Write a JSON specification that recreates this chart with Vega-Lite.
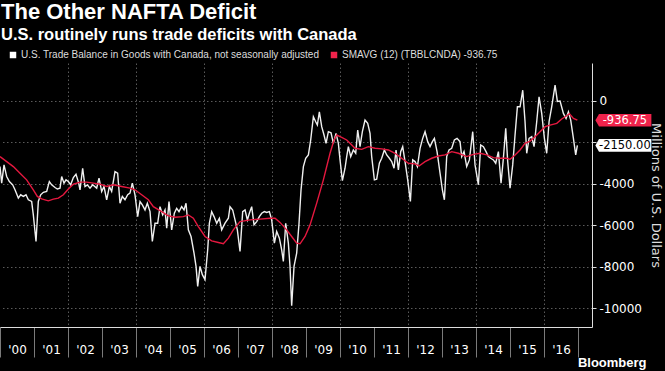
{
  "$schema": "https://vega.github.io/schema/vega-lite/v6.json",
  "width": 592,
  "height": 264,
  "autosize": {"type": "none"},
  "padding": {"left": 0, "top": 63, "right": 73, "bottom": 44},
  "background": "#000000",
  "title": {
    "text": "The Other NAFTA Deficit",
    "subtitle": "U.S. routinely runs trade deficits with Canada",
    "anchor": "start",
    "frame": "group",
    "orient": "top",
    "offset": 6,
    "dx": 1,
    "font": "Liberation Sans",
    "fontSize": 22,
    "fontWeight": "bold",
    "color": "#ffffff",
    "subtitleFont": "Liberation Sans",
    "subtitleFontSize": 16.5,
    "subtitleFontWeight": "bold",
    "subtitleColor": "#ffffff",
    "subtitlePadding": 3
  },
  "config": {
    "view": {"stroke": null},
    "legend": {"orient": "none"}
  },
  "datasets": {
    "lines": [
      {"s":"bal","t":2000.000,"v":-3170},{"s":"bal","t":2000.049,"v":-3970},{"s":"bal","t":2000.118,"v":-3090},{"s":"bal","t":2000.196,"v":-3650},{"s":"bal","t":2000.275,"v":-3890},{"s":"bal","t":2000.373,"v":-4050},{"s":"bal","t":2000.441,"v":-4290},{"s":"bal","t":2000.539,"v":-4690},{"s":"bal","t":2000.608,"v":-4530},{"s":"bal","t":2000.686,"v":-4610},{"s":"bal","t":2000.765,"v":-4530},{"s":"bal","t":2000.833,"v":-4770},{"s":"bal","t":2000.931,"v":-4850},{"s":"bal","t":2000.980,"v":-5500},{"s":"bal","t":2001.059,"v":-6780},{"s":"bal","t":2001.127,"v":-4850},{"s":"bal","t":2001.196,"v":-4530},{"s":"bal","t":2001.275,"v":-4410},{"s":"bal","t":2001.373,"v":-4370},{"s":"bal","t":2001.451,"v":-3890},{"s":"bal","t":2001.520,"v":-4050},{"s":"bal","t":2001.618,"v":-4180},{"s":"bal","t":2001.686,"v":-4250},{"s":"bal","t":2001.765,"v":-4210},{"s":"bal","t":2001.814,"v":-3650},{"s":"bal","t":2001.882,"v":-3970},{"s":"bal","t":2001.941,"v":-3810},{"s":"bal","t":2002.010,"v":-3890},{"s":"bal","t":2002.078,"v":-4050},{"s":"bal","t":2002.157,"v":-3700},{"s":"bal","t":2002.235,"v":-3540},{"s":"bal","t":2002.314,"v":-3970},{"s":"bal","t":2002.353,"v":-4290},{"s":"bal","t":2002.431,"v":-3250},{"s":"bal","t":2002.500,"v":-4130},{"s":"bal","t":2002.569,"v":-4050},{"s":"bal","t":2002.647,"v":-4210},{"s":"bal","t":2002.725,"v":-4050},{"s":"bal","t":2002.843,"v":-4210},{"s":"bal","t":2002.912,"v":-3730},{"s":"bal","t":2002.990,"v":-4370},{"s":"bal","t":2003.059,"v":-4130},{"s":"bal","t":2003.137,"v":-4770},{"s":"bal","t":2003.216,"v":-4130},{"s":"bal","t":2003.284,"v":-4370},
      {"s":"bal","t":2003.382,"v":-3410},{"s":"bal","t":2003.460,"v":-3490},{"s":"bal","t":2003.529,"v":-4940},{"s":"bal","t":2003.598,"v":-4610},{"s":"bal","t":2003.676,"v":-4770},{"s":"bal","t":2003.755,"v":-4530},{"s":"bal","t":2003.823,"v":-4450},{"s":"bal","t":2003.892,"v":-3970},{"s":"bal","t":2003.970,"v":-4530},{"s":"bal","t":2004.049,"v":-5580},{"s":"bal","t":2004.118,"v":-4860},{"s":"bal","t":2004.186,"v":-5020},{"s":"bal","t":2004.264,"v":-5260},{"s":"bal","t":2004.333,"v":-4940},{"s":"bal","t":2004.412,"v":-5340},{"s":"bal","t":2004.480,"v":-6780},{"s":"bal","t":2004.559,"v":-5900},{"s":"bal","t":2004.637,"v":-5900},{"s":"bal","t":2004.706,"v":-5100},{"s":"bal","t":2004.784,"v":-5500},{"s":"bal","t":2004.853,"v":-5260},{"s":"bal","t":2004.902,"v":-6140},{"s":"bal","t":2004.970,"v":-4860},{"s":"bal","t":2005.049,"v":-6220},{"s":"bal","t":2005.127,"v":-5420},{"s":"bal","t":2005.196,"v":-5180},{"s":"bal","t":2005.264,"v":-5340},{"s":"bal","t":2005.343,"v":-5100},{"s":"bal","t":2005.412,"v":-5260},{"s":"bal","t":2005.471,"v":-4940},{"s":"bal","t":2005.539,"v":-6220},{"s":"bal","t":2005.618,"v":-6540},{"s":"bal","t":2005.706,"v":-7340},{"s":"bal","t":2005.765,"v":-7980},{"s":"bal","t":2005.814,"v":-8940},{"s":"bal","t":2005.882,"v":-7980},{"s":"bal","t":2005.951,"v":-8380},{"s":"bal","t":2006.029,"v":-8620},{"s":"bal","t":2006.108,"v":-7180},{"s":"bal","t":2006.157,"v":-5900},{"s":"bal","t":2006.225,"v":-5340},{"s":"bal","t":2006.294,"v":-5580},{"s":"bal","t":2006.373,"v":-5900},{"s":"bal","t":2006.451,"v":-5660},{"s":"bal","t":2006.520,"v":-6220},{"s":"bal","t":2006.618,"v":-5900},{"s":"bal","t":2006.716,"v":-5660},
      {"s":"bal","t":2006.765,"v":-5100},{"s":"bal","t":2006.843,"v":-5260},{"s":"bal","t":2006.912,"v":-5740},{"s":"bal","t":2006.980,"v":-6220},{"s":"bal","t":2007.059,"v":-7260},{"s":"bal","t":2007.137,"v":-5340},{"s":"bal","t":2007.206,"v":-5260},{"s":"bal","t":2007.275,"v":-5740},{"s":"bal","t":2007.333,"v":-5420},{"s":"bal","t":2007.402,"v":-5100},{"s":"bal","t":2007.471,"v":-5980},{"s":"bal","t":2007.549,"v":-5820},{"s":"bal","t":2007.627,"v":-5580},{"s":"bal","t":2007.696,"v":-5420},{"s":"bal","t":2007.775,"v":-5340},{"s":"bal","t":2007.843,"v":-5380},{"s":"bal","t":2007.922,"v":-5340},{"s":"bal","t":2007.990,"v":-5740},{"s":"bal","t":2008.069,"v":-6860},{"s":"bal","t":2008.137,"v":-6300},{"s":"bal","t":2008.216,"v":-6620},{"s":"bal","t":2008.284,"v":-7180},{"s":"bal","t":2008.333,"v":-7740},{"s":"bal","t":2008.402,"v":-5900},{"s":"bal","t":2008.480,"v":-6860},{"s":"bal","t":2008.529,"v":-7980},{"s":"bal","t":2008.578,"v":-9870},{"s":"bal","t":2008.647,"v":-7980},{"s":"bal","t":2008.725,"v":-7340},{"s":"bal","t":2008.794,"v":-5900},{"s":"bal","t":2008.853,"v":-4290},{"s":"bal","t":2008.922,"v":-3170},{"s":"bal","t":2008.990,"v":-2770},{"s":"bal","t":2009.069,"v":-2610},{"s":"bal","t":2009.137,"v":-1890},{"s":"bal","t":2009.216,"v":-770},{"s":"bal","t":2009.284,"v":-1010},{"s":"bal","t":2009.333,"v":-1170},{"s":"bal","t":2009.392,"v":-530},{"s":"bal","t":2009.461,"v":-1250},{"s":"bal","t":2009.529,"v":-1650},{"s":"bal","t":2009.588,"v":-2050},{"s":"bal","t":2009.657,"v":-1490},{"s":"bal","t":2009.735,"v":-1540},{"s":"bal","t":2009.804,"v":-2050},{"s":"bal","t":2009.882,"v":-1570},{"s":"bal","t":2009.951,"v":-2050},{"s":"bal","t":2010.000,"v":-2850},{"s":"bal","t":2010.069,"v":-3850},
      {"s":"bal","t":2010.147,"v":-3250},{"s":"bal","t":2010.196,"v":-2690},{"s":"bal","t":2010.245,"v":-2210},{"s":"bal","t":2010.314,"v":-2690},{"s":"bal","t":2010.392,"v":-2370},{"s":"bal","t":2010.461,"v":-2530},{"s":"bal","t":2010.520,"v":-1410},{"s":"bal","t":2010.588,"v":-2210},{"s":"bal","t":2010.657,"v":-1490},{"s":"bal","t":2010.735,"v":-930},{"s":"bal","t":2010.814,"v":-1090},{"s":"bal","t":2010.882,"v":-1570},{"s":"bal","t":2010.931,"v":-2690},{"s":"bal","t":2011.010,"v":-3810},{"s":"bal","t":2011.078,"v":-3780},{"s":"bal","t":2011.157,"v":-3010},{"s":"bal","t":2011.225,"v":-2770},{"s":"bal","t":2011.304,"v":-2370},{"s":"bal","t":2011.373,"v":-2610},{"s":"bal","t":2011.451,"v":-2770},{"s":"bal","t":2011.520,"v":-2930},{"s":"bal","t":2011.588,"v":-3250},{"s":"bal","t":2011.647,"v":-2370},{"s":"bal","t":2011.716,"v":-3330},{"s":"bal","t":2011.784,"v":-2450},{"s":"bal","t":2011.843,"v":-2210},{"s":"bal","t":2011.912,"v":-2930},{"s":"bal","t":2011.990,"v":-3810},{"s":"bal","t":2012.069,"v":-4850},{"s":"bal","t":2012.137,"v":-2850},{"s":"bal","t":2012.206,"v":-2930},{"s":"bal","t":2012.275,"v":-3170},{"s":"bal","t":2012.353,"v":-2290},{"s":"bal","t":2012.431,"v":-1810},{"s":"bal","t":2012.500,"v":-1490},{"s":"bal","t":2012.578,"v":-1970},{"s":"bal","t":2012.647,"v":-2210},{"s":"bal","t":2012.716,"v":-1970},{"s":"bal","t":2012.775,"v":-1810},{"s":"bal","t":2012.853,"v":-2450},{"s":"bal","t":2012.941,"v":-3490},{"s":"bal","t":2013.010,"v":-4290},{"s":"bal","t":2013.069,"v":-4770},{"s":"bal","t":2013.137,"v":-2690},{"s":"bal","t":2013.206,"v":-2370},{"s":"bal","t":2013.284,"v":-2290},{"s":"bal","t":2013.363,"v":-1890},{"s":"bal","t":2013.441,"v":-1810},
      {"s":"bal","t":2013.529,"v":-1970},{"s":"bal","t":2013.578,"v":-2690},{"s":"bal","t":2013.647,"v":-2450},{"s":"bal","t":2013.725,"v":-3170},{"s":"bal","t":2013.804,"v":-2850},{"s":"bal","t":2013.902,"v":-1490},{"s":"bal","t":2013.970,"v":-3090},{"s":"bal","t":2014.069,"v":-4050},{"s":"bal","t":2014.137,"v":-2130},{"s":"bal","t":2014.216,"v":-2210},{"s":"bal","t":2014.294,"v":-2450},{"s":"bal","t":2014.363,"v":-2690},{"s":"bal","t":2014.431,"v":-2770},{"s":"bal","t":2014.510,"v":-2850},{"s":"bal","t":2014.578,"v":-3010},{"s":"bal","t":2014.657,"v":-2450},{"s":"bal","t":2014.735,"v":-3970},{"s":"bal","t":2014.804,"v":-2770},{"s":"bal","t":2014.873,"v":-1330},{"s":"bal","t":2014.931,"v":-2930},{"s":"bal","t":2015.000,"v":-4210},{"s":"bal","t":2015.078,"v":-3090},{"s":"bal","t":2015.147,"v":-1650},{"s":"bal","t":2015.216,"v":-290},{"s":"bal","t":2015.294,"v":-290},{"s":"bal","t":2015.373,"v":510},{"s":"bal","t":2015.441,"v":-1010},{"s":"bal","t":2015.490,"v":-2530},{"s":"bal","t":2015.559,"v":-1810},{"s":"bal","t":2015.637,"v":-1730},{"s":"bal","t":2015.706,"v":-2210},{"s":"bal","t":2015.784,"v":-1010},{"s":"bal","t":2015.853,"v":190},{"s":"bal","t":2015.931,"v":-610},{"s":"bal","t":2016.010,"v":-1810},{"s":"bal","t":2016.078,"v":-2530},{"s":"bal","t":2016.147,"v":-1010},{"s":"bal","t":2016.225,"v":-290},{"s":"bal","t":2016.324,"v":750},{"s":"bal","t":2016.392,"v":-30},{"s":"bal","t":2016.471,"v":-10},{"s":"bal","t":2016.569,"v":-610},{"s":"bal","t":2016.647,"v":-850},{"s":"bal","t":2016.716,"v":-530},{"s":"bal","t":2016.784,"v":-930},{"s":"bal","t":2016.863,"v":-1810},{"s":"bal","t":2016.931,"v":-2610},{"s":"bal","t":2016.980,"v":-2150},
      {"s":"sma","t":2000.000,"v":-2690},{"s":"sma","t":2000.392,"v":-3170},{"s":"sma","t":2000.588,"v":-3490},{"s":"sma","t":2000.784,"v":-3810},{"s":"sma","t":2000.980,"v":-4290},{"s":"sma","t":2001.098,"v":-4610},{"s":"sma","t":2001.225,"v":-4730},{"s":"sma","t":2001.422,"v":-4820},{"s":"sma","t":2001.569,"v":-4740},{"s":"sma","t":2001.716,"v":-4690},{"s":"sma","t":2001.863,"v":-4530},{"s":"sma","t":2002.010,"v":-4250},{"s":"sma","t":2002.157,"v":-4020},{"s":"sma","t":2002.353,"v":-3920},{"s":"sma","t":2002.549,"v":-3920},{"s":"sma","t":2002.745,"v":-3970},{"s":"sma","t":2002.941,"v":-4020},{"s":"sma","t":2003.137,"v":-4130},{"s":"sma","t":2003.333,"v":-4050},{"s":"sma","t":2003.578,"v":-4130},{"s":"sma","t":2003.823,"v":-4210},{"s":"sma","t":2003.970,"v":-4290},{"s":"sma","t":2004.166,"v":-4530},{"s":"sma","t":2004.362,"v":-4770},{"s":"sma","t":2004.510,"v":-5100},{"s":"sma","t":2004.755,"v":-5340},{"s":"sma","t":2004.951,"v":-5540},{"s":"sma","t":2005.147,"v":-5610},{"s":"sma","t":2005.392,"v":-5580},{"s":"sma","t":2005.539,"v":-5500},{"s":"sma","t":2005.686,"v":-5660},{"s":"sma","t":2005.833,"v":-6060},{"s":"sma","t":2006.029,"v":-6540},{"s":"sma","t":2006.225,"v":-6750},{"s":"sma","t":2006.422,"v":-6830},{"s":"sma","t":2006.569,"v":-6890},{"s":"sma","t":2006.716,"v":-6620},{"s":"sma","t":2006.862,"v":-6220},{"s":"sma","t":2007.059,"v":-5820},{"s":"sma","t":2007.353,"v":-5740},{"s":"sma","t":2007.647,"v":-5700},{"s":"sma","t":2007.941,"v":-5660},{"s":"sma","t":2008.088,"v":-5660},{"s":"sma","t":2008.235,"v":-5860},{"s":"sma","t":2008.431,"v":-6220},{"s":"sma","t":2008.578,"v":-6540},{"s":"sma","t":2008.725,"v":-6860},{"s":"sma","t":2008.824,"v":-6890},{"s":"sma","t":2008.971,"v":-6540},{"s":"sma","t":2009.118,"v":-5980},{"s":"sma","t":2009.314,"v":-4930},{"s":"sma","t":2009.510,"v":-3810},{"s":"sma","t":2009.706,"v":-2530},{"s":"sma","t":2009.824,"v":-1890},{"s":"sma","t":2009.902,"v":-1650},{"s":"sma","t":2010.049,"v":-1760},{"s":"sma","t":2010.196,"v":-1890},{"s":"sma","t":2010.294,"v":-2050},{"s":"sma","t":2010.441,"v":-2290},{"s":"sma","t":2010.637,"v":-2340},{"s":"sma","t":2010.833,"v":-2210},{"s":"sma","t":2011.029,"v":-2290},{"s":"sma","t":2011.225,"v":-2320},{"s":"sma","t":2011.422,"v":-2370},{"s":"sma","t":2011.618,"v":-2530},{"s":"sma","t":2011.814,"v":-2770},{"s":"sma","t":2012.010,"v":-3010},{"s":"sma","t":2012.206,"v":-3040},{"s":"sma","t":2012.324,"v":-3140},{"s":"sma","t":2012.500,"v":-2930},{"s":"sma","t":2012.696,"v":-2770},{"s":"sma","t":2012.892,"v":-2660},{"s":"sma","t":2013.088,"v":-2610},{"s":"sma","t":2013.284,"v":-2450},{"s":"sma","t":2013.480,"v":-2530},{"s":"sma","t":2013.725,"v":-2690},{"s":"sma","t":2013.922,"v":-2580},{"s":"sma","t":2014.118,"v":-2530},{"s":"sma","t":2014.314,"v":-2610},{"s":"sma","t":2014.510,"v":-2740},{"s":"sma","t":2014.706,"v":-2770},{"s":"sma","t":2014.902,"v":-2770},{"s":"sma","t":2015.000,"v":-2820},{"s":"sma","t":2015.147,"v":-2610},{"s":"sma","t":2015.294,"v":-2370},{"s":"sma","t":2015.441,"v":-2050},{"s":"sma","t":2015.588,"v":-1940},{"s":"sma","t":2015.735,"v":-1730},{"s":"sma","t":2015.882,"v":-1490},{"s":"sma","t":2016.029,"v":-1250},{"s":"sma","t":2016.176,"v":-1170},{"s":"sma","t":2016.373,"v":-1090},{"s":"sma","t":2016.520,"v":-880},{"s":"sma","t":2016.667,"v":-720},{"s":"sma","t":2016.745,"v":-620},{"s":"sma","t":2016.863,"v":-850},{"s":"sma","t":2016.980,"v":-937}
    ],
    "tags": [
      {"s": "sma", "t": 2016.98, "v": -936.75, "label": "-936.75"},
      {"s": "bal", "t": 2016.98, "v": -2150, "label": "-2150.00"}
    ]
  },
  "encoding": {
    "x": {
      "field": "t",
      "type": "quantitative",
      "scale": {"domain": [2000, 2017.41], "nice": false, "zero": false},
      "axis": {
        "values": [2000, 2001, 2002, 2003, 2004, 2005, 2006, 2007, 2008, 2009, 2010, 2011, 2012, 2013, 2014, 2015, 2016, 2017],
        "labelExpr": "datum.value >= 2017 ? '' : \"'\" + substring(toString(datum.value), 2, 4)",
        "labelOffset": 17,
        "labelAlign": "center",
        "labelPadding": -13,
        "labelColor": "#ffffff",
        "labelFont": "DejaVu Sans",
        "labelFontSize": 12,
        "labelOverlap": false,
        "labelBound": false,
        "labelFlush": false,
        "grid": true,
        "gridColor": "#5a5a5a",
        "gridDash": [1.5, 2.5],
        "gridOpacity": {"condition": {"test": "datum.value % 2 == 0 && datum.value > 2000 && datum.value < 2017", "value": 1}, "value": 0},
        "domain": true,
        "domainColor": "#dddddd",
        "ticks": true,
        "tickSize": 30,
        "tickColor": "#7a7a7a",
        "tickWidth": 1,
        "tickOpacity": 1,
        "title": "Bloomberg",
        "titleColor": "#ffffff",
        "titleFont": "Liberation Sans",
        "titleFontWeight": "bold",
        "titleFontSize": 13,
        "titleX": 646,
        "titleY": 35,
        "titleAlign": "right",
        "titleBaseline": "middle"
      }
    },
    "y": {
      "field": "v",
      "type": "quantitative",
      "scale": {"domain": [-10900, 1820], "nice": false, "zero": false},
      "axis": {
        "orient": "right",
        "values": [0, -2000, -4000, -6000, -8000, -10000],
        "labelExpr": "datum.value == -2000 ? '' : toString(datum.value)",
        "grid": true,
        "gridColor": "#5a5a5a",
        "gridDash": [1.5, 2.5],
        "gridWidth": 1,
        "domain": true,
        "domainColor": "#dddddd",
        "domainWidth": 1,
        "ticks": true,
        "tickSize": 4,
        "tickColor": "#dddddd",
        "labelColor": "#ffffff",
        "labelFont": "DejaVu Sans",
        "labelFontSize": 12,
        "labelPadding": 3,
        "title": "Millions of U.S. Dollars",
        "titleColor": "#dddddd",
        "titleFont": "DejaVu Sans",
        "titleFontSize": 13,
        "titleFontWeight": "normal",
        "titleAngle": 90,
        "titleX": 63,
        "titleY": 132,
        "titleAlign": "center",
        "titleBaseline": "middle"
      }
    }
  },
  "layer": [
    {
      "data": {"name": "lines"},
      "transform": [{"filter": "datum.s == 'bal'"}],
      "mark": {"type": "line", "strokeWidth": 1.4, "clip": true},
      "encoding": {
        "color": {
          "field": "s",
          "type": "nominal",
          "scale": {"domain": ["bal", "sma"], "range": ["#f0f0f0", "#e5183f"]},
          "legend": {
            "orient": "none",
            "legendX": 8,
            "legendY": -13,
            "direction": "horizontal",
            "title": null,
            "symbolType": "square",
            "symbolSize": 42,
            "labelColor": "#dddddd",
            "labelFont": "Liberation Sans",
            "labelFontSize": 10,
            "labelOffset": 3,
            "columnPadding": 9,
            "labelLimit": 400,
            "labelExpr": "datum.value == 'bal' ? 'U.S. Trade Balance in Goods with Canada, not seasonally adjusted' : 'SMAVG (12) (TBBLCNDA) -936.75'",
            "encode": {"symbols": {"update": {"fill": {"scale": "color", "field": "value"}, "fillOpacity": {"value": 1}, "strokeWidth": {"value": 0}}}}
          }
        }
      }
    },
    {
      "data": {"name": "lines"},
      "transform": [{"filter": "datum.s == 'sma'"}],
      "mark": {"type": "line", "strokeWidth": 1.4, "clip": true},
      "encoding": {
        "color": {"field": "s", "type": "nominal"}
      }
    },
    {
      "data": {"name": "tags"},
      "mark": {
        "type": "point",
        "filled": true,
        "opacity": 1,
        "clip": false,
        "size": 3136,
        "shape": "M-1,0L-0.87,-0.225L1,-0.225L1,0.225L-0.87,0.225Z",
        "xOffset": 46
      },
      "encoding": {
        "fill": {"field": "s", "type": "nominal", "scale": {"domain": ["bal", "sma"], "range": ["#ffffff", "#f0234b"]}, "legend": null}
      }
    },
    {
      "data": {"name": "tags"},
      "mark": {"type": "text", "clip": false, "font": "DejaVu Sans", "fontSize": 11.5, "align": "center", "baseline": "middle", "xOffset": 47.5, "yOffset": 0.5},
      "encoding": {
        "text": {"field": "label"},
        "color": {"condition": {"test": "datum.s == 'sma'", "value": "#ffffff"}, "value": "#000000"}
      }
    }
  ]
}
